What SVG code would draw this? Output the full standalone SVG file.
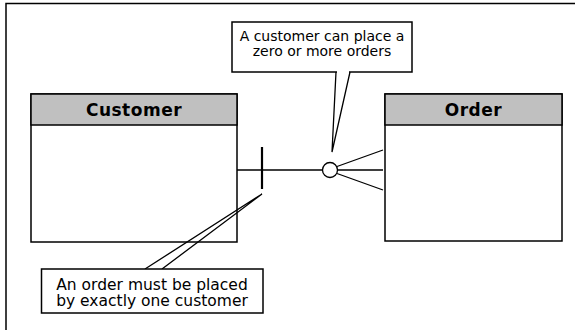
<svg xmlns="http://www.w3.org/2000/svg" width="575" height="330" viewBox="0 0 575 330">
<style>
.frame{stroke:#000;stroke-width:1.5;fill:none}
.box{fill:#fff;stroke:#000;stroke-width:1.5}
.hdr{fill:#c0c0c0;stroke:#000;stroke-width:1.5}
.ln{stroke:#000;stroke-width:1.3;fill:none}
.title{font-family:"DejaVu Sans",Verdana,sans-serif;font-weight:bold;font-size:17px;letter-spacing:0.5px;text-anchor:middle}
.note{font-family:"DejaVu Sans",Verdana,sans-serif;text-anchor:middle}
</style>
<rect width="575" height="330" fill="#fff"/>
<g id="frame"><path class="frame" d="M575 3.5 H6 V330"/></g>
<g id="customer">
<rect class="box" x="31" y="94" width="206" height="148"/>
<rect class="hdr" x="31" y="94" width="206" height="31"/>
<text class="title" x="134" y="116">Customer</text>
</g>
<g id="order">
<rect class="box" x="385" y="94" width="177" height="147"/>
<rect class="hdr" x="385" y="94" width="177" height="31"/>
<text class="title" x="473.5" y="116">Order</text>
</g>
<g id="connectors">
<path class="ln" d="M237 170 H322"/>
<path d="M262 147 V189" stroke="#000" stroke-width="2.2"/>
<circle cx="330" cy="170" r="7.5" fill="#fff" stroke="#000" stroke-width="1.3"/>
<path class="ln" d="M337 166.5 L383 150 M337.5 170 H383 M337 173.5 L383 190"/>
</g>
<g id="note-top">
<path class="ln" fill="#fff" d="M336 72 L332 152 L350 72"/>
<rect class="box" x="232" y="22" width="180" height="50"/>
<path d="M337 72 H349" stroke="#fff" stroke-width="2"/>
<text class="note" x="322" y="40.5" font-size="14">A customer can place a</text>
<text class="note" x="322" y="55.5" font-size="14">zero or more orders</text>
</g>
<g id="note-bottom">
<path class="ln" fill="none" d="M145 269 L262 194 L162 269"/>
<rect class="box" x="41.5" y="269" width="221.5" height="44"/>
<text class="note" x="152" y="289.5" font-size="15.5">An order must be placed</text>
<text class="note" x="152" y="306" font-size="15.5">by exactly one customer</text>
</g>
</svg>
